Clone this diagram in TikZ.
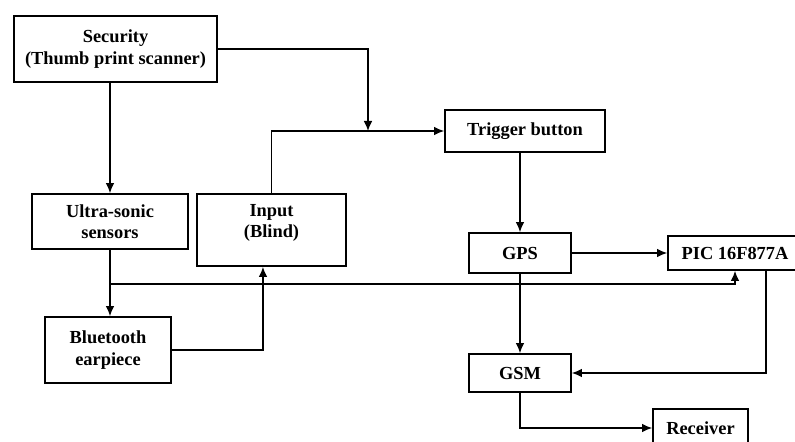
\documentclass[tikz,border=0pt]{standalone}
\usepackage{fontspec}
\setmainfont{Liberation Serif}
\usetikzlibrary{arrows.meta}

\begin{document}
\begin{tikzpicture}[x=0.75pt,y=-0.75pt,
        blk/.style={draw,line width=1.3pt,align=center,inner sep=2pt,font=\fontsize{13.8}{16}\selectfont\bfseries},
        conn/.style={line width=1.1pt,-{Latex[length=7.5pt,width=6.5pt]}}]
        \useasboundingbox (0,0) rectangle (795,442);
        \node[blk,minimum width=152.25pt,minimum height=49.5pt] (sec) at (115.5,49) {Security\\(Thumb print scanner)};
        \node[blk,minimum width=117pt,minimum height=41.25pt] (ultra) at (110,221.5) {Ultra-sonic\\sensors};
        \node[blk,minimum width=111.75pt,minimum height=54pt] (input) at (271.5,230) {};
        \node[font=\fontsize{13.8}{16}\selectfont\bfseries,align=center] (inputtxt) at (271.5,223) {Input\\(Blind)};
        \node[blk,minimum width=94.5pt,minimum height=49.5pt] (bt) at (108,350) {Bluetooth\\earpiece};
        \node[blk,minimum width=120pt,minimum height=31.5pt] (trig) at (525,131) {Trigger button};
        \node[blk,minimum width=76.5pt,minimum height=30pt] (gps) at (520,253) {GPS};
        \node[blk,minimum width=100.5pt,minimum height=25.5pt] (pic) at (735,253) {PIC 16F877A};
        \node[blk,minimum width=76.5pt,minimum height=28.5pt] (gsm) at (520,373) {GSM};
        \node[blk,minimum width=71.25pt,minimum height=28.5pt] (rec) at (700.5,428) {Receiver};
        \coordinate (jn) at (368,131);
        \coordinate (tap) at (110,284);
        \draw[conn] (sec.east) -| (jn);
        \draw[conn] (input.north) |- (trig.west);
        \draw[conn] (sec.south -| ultra.north) -- (ultra.north);
        \draw[conn] (ultra.south) -- (ultra.south |- bt.north);
        \draw[conn] (tap) -| (pic.south);
        \draw[conn] (bt.east) -| ([xshift=-6.4pt]input.south);
        \draw[conn] (trig.south -| gps.north) -- (gps.north);
        \draw[conn] (gps.east) -- (pic.west);
        \draw[conn] (gps.south) -- (gsm.north);
        \draw[conn] ([xshift=23.25pt]pic.south) |- (gsm.east);
        \draw[conn] (gsm.south) |- (rec.west);
    \end{tikzpicture}
\end{document}
